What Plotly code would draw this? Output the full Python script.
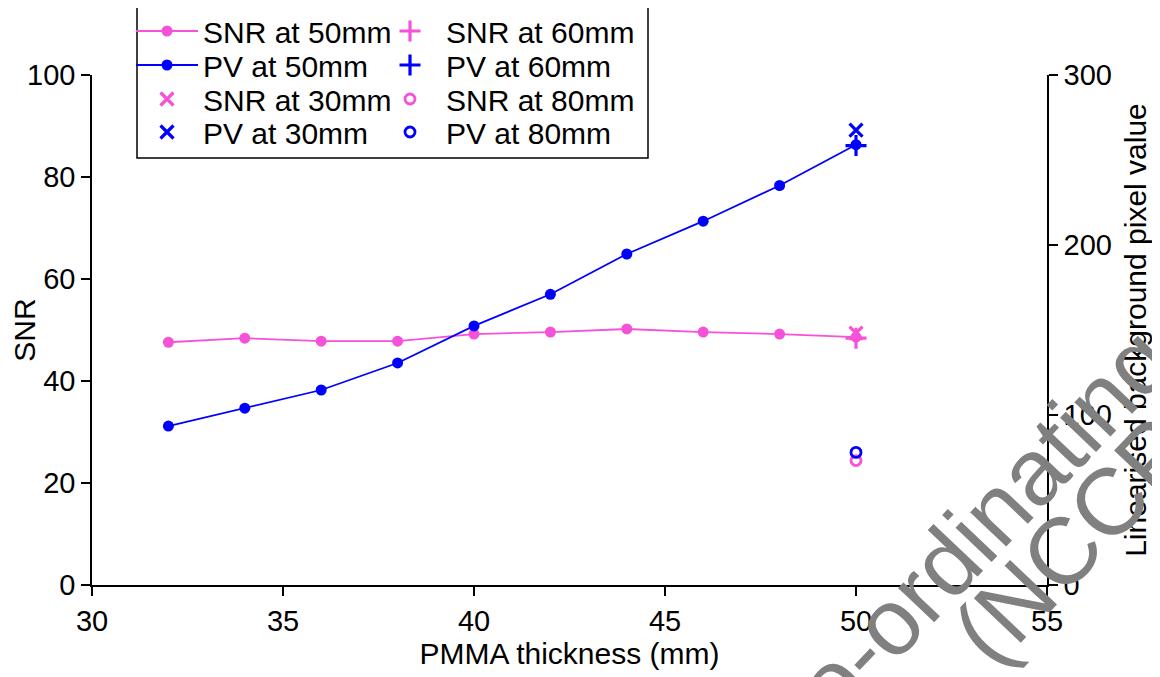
import plotly.graph_objects as go

# ---- data ----
thickness = [32, 34, 36, 38, 40, 42, 44, 46, 48, 50]
snr_50 = [47.6, 48.4, 47.8, 47.8, 49.2, 49.6, 50.2, 49.6, 49.2, 48.6]
pv_50 = [93.5, 104.0, 114.7, 130.6, 152.4, 171.0, 194.7, 214.0, 235.0, 259.0]

x_single = [50]
snr_30 = [49.4]
pv_30 = [267.6]
snr_60 = [48.4]
pv_60 = [258.5]
snr_80 = [24.4]
pv_80 = [78.0]

PINK = "#f652d8"
BLUE = "#0000ff"
FONT = "Liberation Sans, Arial, sans-serif"

W, H = 1152, 669   # page has an 8px body margin
OFF = 8
PL, PR, PT, PB = 92, 1047, 75, 585   # plot area in page pixels

def px(x):
    return (x - PL) / (PR - PL)

def py(y):
    return (PB - y) / (PB - PT)

fig = go.Figure()

# legend slots: (legend id, symbol-centre x, row-centre y) in page pixels
slots = {
    "SNR at 50mm": ("legend", 167, 31),
    "PV at 50mm": ("legend2", 167, 65),
    "SNR at 30mm": ("legend3", 167, 99),
    "PV at 30mm": ("legend4", 167, 132),
    "SNR at 60mm": ("legend5", 410, 31),
    "PV at 60mm": ("legend6", 410, 65),
    "SNR at 80mm": ("legend7", 410, 99),
    "PV at 80mm": ("legend8", 410, 132),
}

ITEMW = 62
HALF = (ITEMW + 10) / 2

def add(name, x, y, color, symbol, mode, yaxis, size, lw=0):
    marker = dict(color=color, symbol=symbol, size=size)
    if lw:
        marker["line"] = dict(color=color, width=lw)
    fig.add_trace(go.Scatter(
        x=x, y=y, name=name, mode=mode, marker=marker,
        line=dict(color=color, width=1.8), yaxis=yaxis,
        legend=slots[name][0], showlegend=True,
    ))

add("SNR at 50mm", thickness, snr_50, PINK, "circle", "lines+markers", "y", 11)
add("PV at 50mm", thickness, pv_50, BLUE, "circle", "lines+markers", "y2", 11)
add("SNR at 30mm", x_single, snr_30, PINK, "x-thin-open", "markers", "y", 13, 3.2)
add("PV at 30mm", x_single, pv_30, BLUE, "x-thin-open", "markers", "y2", 13, 3.2)
add("SNR at 60mm", x_single, snr_60, PINK, "cross-thin-open", "markers", "y", 15, 3.2)
add("PV at 60mm", x_single, pv_60, BLUE, "cross-thin-open", "markers", "y2", 15, 3.2)
add("SNR at 80mm", x_single, snr_80, PINK, "circle-open", "markers", "y", 10, 2.8)
add("PV at 80mm", x_single, pv_80, BLUE, "circle-open", "markers", "y2", 10, 2.8)

axis_common = dict(
    showline=True, linecolor="black", linewidth=1.5, ticks="outside",
    ticklen=9, tickwidth=1.5, tickcolor="black", showgrid=False, zeroline=False,
    tickfont=dict(size=29, color="black", family=FONT), automargin=False,
)

legends = {}
for name, (lid, sx, sy) in slots.items():
    legends[lid] = dict(
        font=dict(size=30, color="black", family=FONT),
        bgcolor="rgba(0,0,0,0)", borderwidth=0, itemwidth=ITEMW,
        xref="paper", yref="paper",
        x=px(sx - HALF), y=py(sy), xanchor="left", yanchor="middle",
    )

fig.update_layout(
    width=W, height=H,
    margin=dict(l=PL - OFF, r=W - (PR - OFF), t=PT - OFF, b=H - (PB - OFF), autoexpand=False),
    paper_bgcolor="white", plot_bgcolor="white",
    font=dict(family=FONT, size=30, color="black"),
    xaxis=dict(range=[30, 55], tickvals=[30, 35, 40, 45, 50, 55],
               title=dict(text="PMMA thickness (mm)", font=dict(size=30), standoff=4),
               **axis_common),
    yaxis=dict(range=[0, 100], tickvals=[0, 20, 40, 60, 80, 100],
               title=dict(text="SNR", font=dict(size=30), standoff=0),
               **axis_common),
    yaxis2=dict(range=[0, 300], tickvals=[0, 100, 200, 300], overlaying="y", side="right",
                title=dict(text="Linearised background pixel value", font=dict(size=30), standoff=14),
                **axis_common),
    showlegend=True,
    **legends,
)

# legend frame (page pixels 137..648 x 7..158)
fig.add_shape(type="rect", xref="paper", yref="paper",
              x0=px(137), x1=px(648), y0=py(158), y1=py(7),
              line=dict(color="black", width=1.5), fillcolor="rgba(0,0,0,0)", layer="above")

# watermark
wm_font = dict(size=94, color="#808080", family=FONT)
fig.add_annotation(text="Co-ordinating", xref="paper", yref="paper",
                   x=0.9094, y=0.0733, showarrow=False,
                   textangle=-46.5, xanchor="center", yanchor="middle", font=wm_font)
fig.add_annotation(text="(NCCPM)", xref="paper", yref="paper",
                   x=1.067, y=0.1655, showarrow=False,
                   textangle=-46.5, xanchor="center", yanchor="middle", font=wm_font)

fig.write_html("out.html")
